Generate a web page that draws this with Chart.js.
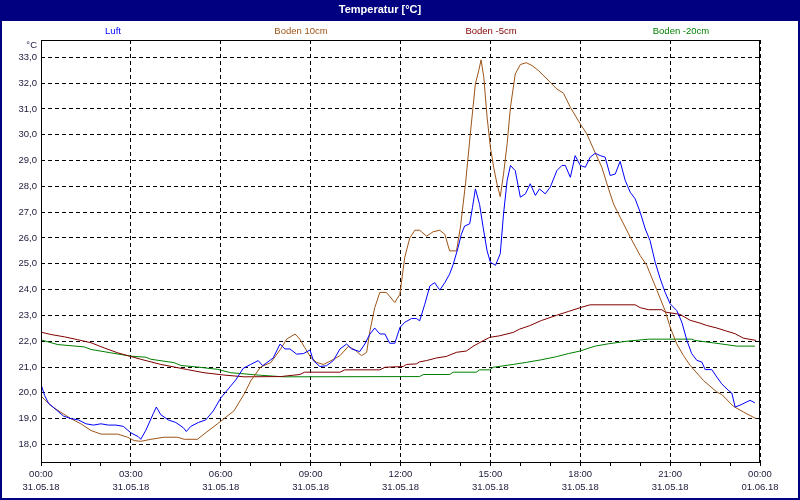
<!DOCTYPE html>
<html><head><meta charset="utf-8">
<script src="https://cdn.jsdelivr.net/npm/chart.js@4/dist/chart.umd.min.js"></script>
<style>html,body{margin:0;padding:0;background:#fff}canvas{display:block}</style>
</head><body>
<canvas id="c" width="800" height="500"></canvas>
<script>
const chartTitle = 'Temperatur [°C]';
const unitLabel = '°C';
const seriesNames = ['Luft', 'Boden 10cm', 'Boden -5cm', 'Boden -20cm'];

const luftHours = [0,0.12,0.25,0.5,0.75,1,1.25,1.5,1.75,2,2.25,2.5,2.75,3,3.25,3.33,3.5,3.75,3.85,4,4.25,4.5,4.75,4.85,5,5.25,5.5,5.75,6,6.25,6.5,6.75,7,7.25,7.4,7.75,7.98,8.14,8.31,8.53,8.76,8.98,9.09,9.31,9.53,9.76,9.98,10.2,10.37,10.64,10.81,10.98,11.14,11.31,11.48,11.64,11.81,11.98,12.14,12.37,12.53,12.64,12.81,12.98,13.14,13.31,13.48,13.64,13.76,13.92,14.03,14.14,14.31,14.4,14.5,14.64,14.76,14.89,15,15.17,15.33,15.44,15.56,15.67,15.83,16,16.17,16.33,16.5,16.64,16.83,17,17.22,17.39,17.5,17.67,17.83,18,18.17,18.33,18.5,18.67,18.83,19,19.17,19.33,19.5,19.67,19.83,20,20.17,20.33,20.5,20.67,20.83,21,21.22,21.39,21.56,21.72,21.89,22.06,22.17,22.39,22.56,22.72,22.94,23.06,23.17,23.33,23.56,23.67,23.83];
const luftValues = [20.33,19.9,19.6,19.35,19.1,19.0,18.95,18.8,18.75,18.8,18.75,18.75,18.7,18.45,18.3,18.2,18.55,19.2,19.45,19.15,18.95,18.85,18.65,18.5,18.7,18.85,18.95,19.3,19.8,20.15,20.5,20.95,21.1,21.25,21.05,21.35,21.89,21.7,21.7,21.5,21.52,21.66,21.25,21.02,21.05,21.25,21.7,21.89,21.7,21.6,21.89,22.28,22.51,22.28,22.28,21.92,21.92,22.53,22.73,22.88,22.88,22.79,23.43,24.14,24.27,23.98,24.27,24.6,24.98,25.62,26.14,26.46,26.55,27.17,27.9,27.3,26.4,25.5,25.06,24.94,25.39,26.94,28.23,28.81,28.61,27.58,27.71,28.1,27.65,27.9,27.71,27.97,28.61,28.81,28.81,28.35,29.19,28.81,28.74,29.13,29.28,29.19,29.13,28.42,28.48,28.97,28.23,27.77,27.52,27.0,26.35,25.9,25.06,24.42,23.9,23.45,23.19,22.74,22.03,21.52,21.26,21.19,20.9,20.9,20.61,20.35,20.1,19.99,19.45,19.52,19.65,19.71,19.61];

const boden10Hours = [0,0.33,0.67,1,1.33,1.67,2,2.56,2.89,3.11,3.33,3.67,4.11,4.56,4.78,5.22,5.44,5.89,6.11,6.44,6.78,7,7.33,7.67,8,8.2,8.48,8.64,8.8,9,9.2,9.42,9.64,9.98,10.26,10.48,10.7,10.87,10.98,11.14,11.31,11.53,11.81,11.98,12.14,12.31,12.48,12.64,12.87,13.09,13.31,13.48,13.64,13.87,14,14.17,14.33,14.5,14.61,14.69,14.78,14.89,15,15.11,15.22,15.33,15.44,15.56,15.67,15.83,16,16.2,16.39,16.61,16.89,17.22,17.44,17.67,18,18.22,18.44,18.72,18.89,19.11,19.22,19.67,20,20.22,20.56,20.83,21,21.22,21.44,21.67,22.11,22.56,22.72,23.11,23.44,23.87];
const boden10Values = [19.88,19.5,19.24,19.0,18.8,18.54,18.4,18.4,18.28,18.15,18.12,18.2,18.28,18.28,18.2,18.2,18.4,18.8,19.0,19.3,19.95,20.46,21.0,21.17,21.7,22.08,22.28,22.08,21.76,21.38,21.18,21.1,21.22,21.44,21.8,21.66,21.44,21.57,22.4,23.3,23.89,23.89,23.5,23.82,25.24,26.0,26.3,26.3,26.07,26.24,26.3,26.14,25.5,25.5,26.42,28.1,30.03,31.97,32.48,32.9,32.23,30.68,29.52,28.74,28.1,27.6,28.48,29.65,31.06,32.35,32.72,32.79,32.68,32.48,32.16,31.77,31.61,31.06,30.42,30.03,29.45,28.74,28.1,27.32,27.06,26.03,25.32,24.94,23.97,23.19,22.55,21.9,21.45,21.06,20.48,20.03,19.94,19.48,19.26,19.0];

const boden5Hours = [0,0.33,0.78,1.22,1.67,2.11,2.56,3.33,4,4.89,5.44,6.1,6.78,8,8.64,8.8,9.98,10.14,11.31,11.48,12.09,12.2,12.53,12.64,12.87,13.2,13.53,13.87,14.2,14.42,14.76,14.98,15.31,15.76,15.98,16.31,16.7,17.2,17.6,18,18.33,19.83,20,20.28,20.72,20.83,21.33,21.67,22,22.22,22.56,22.89,23.17,23.44,23.87];
const boden5Values = [22.35,22.26,22.17,22.06,21.94,21.74,21.55,21.3,21.1,20.9,20.78,20.69,20.62,20.63,20.71,20.8,20.8,20.89,20.89,20.99,21.02,21.1,21.12,21.2,21.25,21.35,21.41,21.57,21.62,21.8,22.02,22.15,22.21,22.34,22.47,22.6,22.8,23.0,23.15,23.3,23.41,23.41,23.3,23.22,23.22,23.13,23.04,22.81,22.7,22.61,22.51,22.39,22.29,22.12,22.03];

const boden20Hours = [0,0.56,1.44,1.67,2.33,3,3.5,3.67,4.44,4.67,5.22,5.89,6.33,7.33,8.1,12.64,12.76,13.64,13.76,14.53,14.64,14.98,15.09,15.76,16.2,16.7,17.2,17.6,18,18.22,18.5,18.94,19.56,20.28,21.72,21.83,22.67,23.22,23.83];
const boden20Values = [22.05,21.87,21.78,21.68,21.55,21.42,21.38,21.3,21.17,21.06,21.0,20.91,20.78,20.68,20.62,20.63,20.71,20.71,20.8,20.8,20.89,20.89,20.99,21.1,21.18,21.28,21.4,21.52,21.62,21.71,21.81,21.9,22.0,22.08,22.08,22.03,21.9,21.81,21.81];

const yTickValues = [18,19,20,21,22,23,24,25,26,27,28,29,30,31,32,33];
const xTickHours = [0,3,6,9,12,15,18,21,24];
const xTickTimes = ['00:00','03:00','06:00','09:00','12:00','15:00','18:00','21:00','00:00'];
const xTickDates = ['31.05.18','31.05.18','31.05.18','31.05.18','31.05.18','31.05.18','31.05.18','31.05.18','01.06.18'];

const colors = ['#0000ff', '#9f5416', '#800000', '#008000'];
const FONT = "'Liberation Sans', Arial, sans-serif";
const TEXT = '#1a1a3a';
const NAVY = '#000080';

function pairs(h, v) { return h.map((x, i) => ({ x: x, y: v[i] })); }
const allHours = [luftHours, boden10Hours, boden5Hours, boden20Hours];
const allValues = [luftValues, boden10Values, boden5Values, boden20Values];

const frame = {
  id: 'frame',
  beforeDraw(chart) {
    const ctx = chart.ctx, W = chart.width, H = chart.height;
    ctx.save();
    ctx.fillStyle = '#fff'; ctx.fillRect(0, 0, W, H);
    ctx.fillStyle = NAVY;
    ctx.fillRect(0, 0, W, 21);
    ctx.fillRect(0, 0, 2, H);
    ctx.fillRect(W - 2, 0, 2, H);
    ctx.fillRect(0, H - 2, W, 2);
    ctx.restore();
  },
  afterDraw(chart) {
    const ctx = chart.ctx, a = chart.chartArea;
    ctx.save();
    ctx.strokeStyle = '#000'; ctx.lineWidth = 1; ctx.setLineDash([]);
    ctx.strokeRect(Math.round(a.left) + 0.5, Math.round(a.top) + 0.5, Math.round(a.right - a.left) - 1, Math.round(a.bottom - a.top));
    // legend texts
    ctx.font = '9.5px ' + FONT;
    ctx.textAlign = 'center'; ctx.textBaseline = 'middle';
    const centers = [113, 301, 491, 681];
    chart.data.datasets.forEach((ds, i) => {
      ctx.fillStyle = ds.borderColor;
      ctx.fillText(ds.label, centers[i], 31);
    });
    // unit label
    ctx.fillStyle = TEXT; ctx.textAlign = 'right';
    ctx.fillText(unitLabel, 37, 45);
    ctx.restore();
  }
};

new Chart(document.getElementById('c'), {
  type: 'line',
  data: {
    datasets: seriesNames.map((name, i) => ({
      label: name,
      data: pairs(allHours[i], allValues[i]),
      borderColor: colors[i],
      backgroundColor: colors[i],
      borderWidth: 1,
      pointRadius: 0,
      tension: 0,
      fill: false
    }))
  },
  options: {
    responsive: false,
    animation: false,
    devicePixelRatio: 1,
    layout: { padding: { left: 0, right: 40, top: 0, bottom: 0 } },
    plugins: {
      legend: { display: false },
      tooltip: { enabled: false },
      title: {
        display: true, text: chartTitle, color: '#ffffff',
        font: { family: FONT, size: 11, weight: 'bold', lineHeight: 1 },
        padding: { top: 4, bottom: 25 }
      }
    },
    scales: {
      x: {
        type: 'linear', min: 0, max: 24,
        afterFit(s) { s.height = 38; },
        ticks: {
          stepSize: 1, autoSkip: false, maxRotation: 0, padding: 1,
          color: TEXT, font: { family: FONT, size: 9.5, lineHeight: 1.45 },
          callback(v) {
            const k = xTickHours.indexOf(v);
            return k >= 0 ? [xTickTimes[k], xTickDates[k]] : '';
          }
        },
        grid: {
          color: (c) => (c.tick && xTickHours.indexOf(c.tick.value) >= 0) ? '#000' : 'rgba(0,0,0,0)',
          tickColor: '#000', tickLength: 4, tickBorderDash: [], lineWidth: 1
        },
        border: { display: false, dash: [4, 3] }
      },
      y: {
        type: 'linear', min: 17.32, max: 33.67,
        afterFit(s) { s.width = 41; },
        afterBuildTicks(s) { s.ticks = yTickValues.map(v => ({ value: v })); },
        ticks: {
          padding: 4, color: TEXT, font: { family: FONT, size: 9.5 },
          callback(v) { return v.toFixed(1).replace('.', ','); }
        },
        grid: { color: '#000', drawTicks: false, lineWidth: 1 },
        border: { display: false, dash: [4, 3] }
      }
    }
  },
  plugins: [frame]
});
</script>
</body></html>
